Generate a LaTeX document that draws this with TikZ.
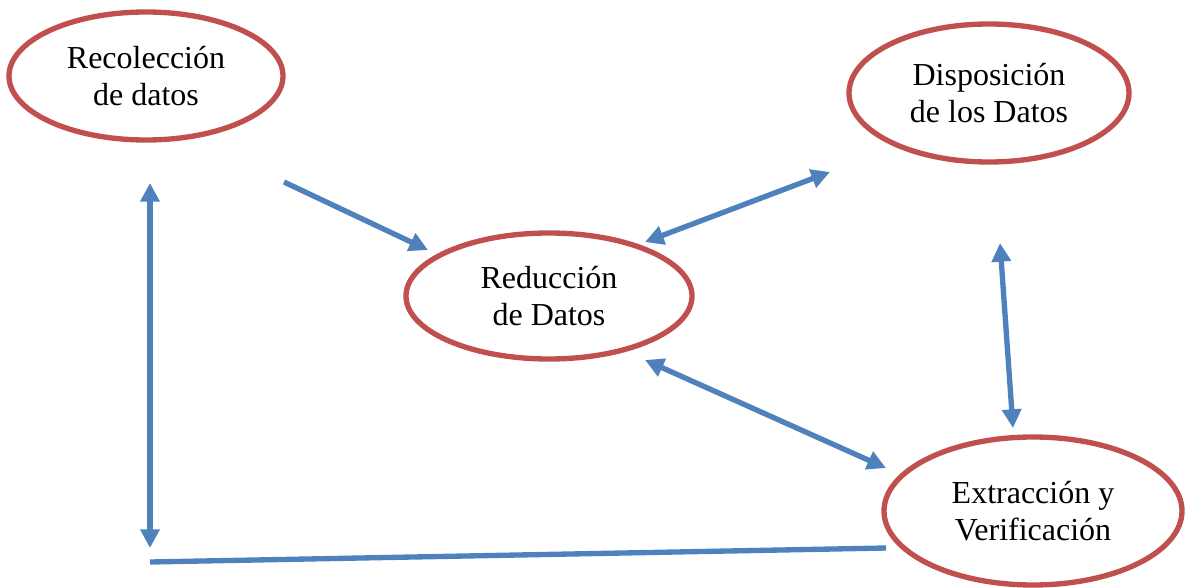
\documentclass[tikz,border=0pt]{standalone}
\usepackage{fontspec}
\setmainfont{Liberation Serif}
\usetikzlibrary{arrows.meta,shapes.geometric}
\definecolor{ered}{HTML}{C0504D}
\definecolor{ablue}{HTML}{4F81BD}
\begin{document}
\begin{tikzpicture}[x=0.75pt,y=-0.75pt,
  stage/.style={ellipse,draw=ered,line width=4pt,inner sep=0pt,
    align=center,font=\fontsize{24pt}{27.5pt}\selectfont},
  conn/.style={draw=ablue,line width=4pt},
  tip/.style={-{Triangle[length=14pt,width=14pt]}},
  dtip/.style={{Triangle[length=14pt,width=14pt]}-{Triangle[length=14pt,width=14pt]}}]
\useasboundingbox (0,0) rectangle (1185,588);
\node[stage,minimum width=205.5pt,minimum height=96pt] (rec) at (146,76) {Recolección\\de datos};
\node[stage,minimum width=210pt,minimum height=103.5pt] (dis) at (989,93) {Disposición\\de los Datos};
\node[stage,minimum width=214.5pt,minimum height=94.5pt] (red) at (549,296) {Reducción\\de Datos};
\node[stage,minimum width=223.5pt,minimum height=111pt] (ext) at (1033,511) {Extracción y\\Verificación};
\coordinate (a1s) at (284,182);
\coordinate (a1e) at (428,250);
\coordinate (a2s) at (645,242);
\coordinate (a2e) at (830,172);
\coordinate (a3s) at (1000,243);
\coordinate (a3e) at (1013,428);
\coordinate (a4s) at (645,360);
\coordinate (a4e) at (886,468);
\coordinate (a5s) at (150,183);
\coordinate (a5e) at (150,548);
\coordinate (l1s) at (150,562);
\coordinate (l1e) at (886,548);
\draw[conn,tip] (a1s) -- (a1e);
\draw[conn,dtip] (a2s) -- (a2e);
\draw[conn,dtip] (a3s) -- (a3e);
\draw[conn,dtip] (a4s) -- (a4e);
\draw[conn,dtip] (a5s) -- (a5e);
\draw[conn] (l1s) -- (l1e);
\end{tikzpicture}
\end{document}
